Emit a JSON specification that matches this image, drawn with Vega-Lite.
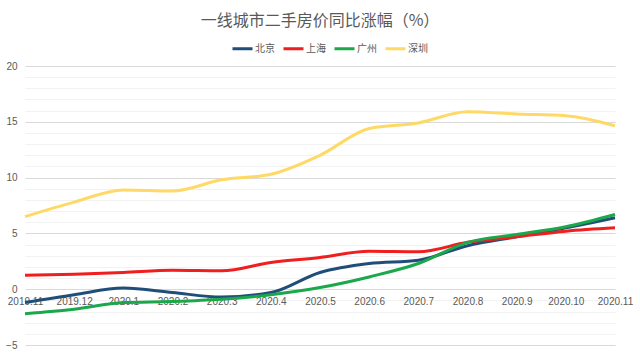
{
  "$schema": "https://vega.github.io/schema/vega-lite/v6.json",
  "autosize": {"type": "none"},
  "width": 590,
  "height": 279,
  "padding": {"left": 25, "top": 66, "right": 25, "bottom": 13},
  "background": "white",
  "title": {"text": "一线城市二手房价同比涨幅（%）", "fontSize": 16, "fontWeight": "normal", "color": "#595959", "font": "Noto Sans CJK SC", "anchor": "middle", "offset": 8},
  "config": {"view": {"stroke": null}, "font": "Noto Sans CJK SC"},
  "data": {"values": [
    {"month": "2019.11", "city": "北京", "v": -1.2}, {"month": "2019.12", "city": "北京", "v": -0.5}, {"month": "2020.1", "city": "北京", "v": 0.1}, {"month": "2020.2", "city": "北京", "v": -0.3}, {"month": "2020.3", "city": "北京", "v": -0.7}, {"month": "2020.4", "city": "北京", "v": -0.3}, {"month": "2020.5", "city": "北京", "v": 1.5}, {"month": "2020.6", "city": "北京", "v": 2.3}, {"month": "2020.7", "city": "北京", "v": 2.6}, {"month": "2020.8", "city": "北京", "v": 3.9}, {"month": "2020.9", "city": "北京", "v": 4.7}, {"month": "2020.10", "city": "北京", "v": 5.5}, {"month": "2020.11", "city": "北京", "v": 6.4},
    {"month": "2019.11", "city": "上海", "v": 1.25}, {"month": "2019.12", "city": "上海", "v": 1.35}, {"month": "2020.1", "city": "上海", "v": 1.5}, {"month": "2020.2", "city": "上海", "v": 1.7}, {"month": "2020.3", "city": "上海", "v": 1.65}, {"month": "2020.4", "city": "上海", "v": 2.4}, {"month": "2020.5", "city": "上海", "v": 2.85}, {"month": "2020.6", "city": "上海", "v": 3.4}, {"month": "2020.7", "city": "上海", "v": 3.35}, {"month": "2020.8", "city": "上海", "v": 4.2}, {"month": "2020.9", "city": "上海", "v": 4.7}, {"month": "2020.10", "city": "上海", "v": 5.2}, {"month": "2020.11", "city": "上海", "v": 5.5},
    {"month": "2019.11", "city": "广州", "v": -2.2}, {"month": "2019.12", "city": "广州", "v": -1.8}, {"month": "2020.1", "city": "广州", "v": -1.2}, {"month": "2020.2", "city": "广州", "v": -1.1}, {"month": "2020.3", "city": "广州", "v": -0.9}, {"month": "2020.4", "city": "广州", "v": -0.5}, {"month": "2020.5", "city": "广州", "v": 0.15}, {"month": "2020.6", "city": "广州", "v": 1.1}, {"month": "2020.7", "city": "广州", "v": 2.3}, {"month": "2020.8", "city": "广州", "v": 4.2}, {"month": "2020.9", "city": "广州", "v": 4.9}, {"month": "2020.10", "city": "广州", "v": 5.6}, {"month": "2020.11", "city": "广州", "v": 6.7},
    {"month": "2019.11", "city": "深圳", "v": 6.5}, {"month": "2019.12", "city": "深圳", "v": 7.8}, {"month": "2020.1", "city": "深圳", "v": 8.9}, {"month": "2020.2", "city": "深圳", "v": 8.8}, {"month": "2020.3", "city": "深圳", "v": 9.8}, {"month": "2020.4", "city": "深圳", "v": 10.3}, {"month": "2020.5", "city": "深圳", "v": 12.0}, {"month": "2020.6", "city": "深圳", "v": 14.4}, {"month": "2020.7", "city": "深圳", "v": 14.9}, {"month": "2020.8", "city": "深圳", "v": 15.9}, {"month": "2020.9", "city": "深圳", "v": 15.7}, {"month": "2020.10", "city": "深圳", "v": 15.55}, {"month": "2020.11", "city": "深圳", "v": 14.65}
  ]},
  "layer": [
    {
      "mark": {"type": "rule", "opacity": 0},
      "encoding": {
        "y": {"field": "v", "type": "quantitative", "scale": {"domain": [-5, 20], "nice": false, "zero": false},
          "axis": {"orient": "left", "values": [-5,-4,-3,-2,-1,0,1,2,3,4,5,6,7,8,9,10,11,12,13,14,15,16,17,18,19,20], "labels": false, "ticks": false, "domain": false, "grid": true, "gridColor": "#f2f2f2", "gridWidth": 1, "title": null}}
      }
    },
    {
      "mark": {"type": "line", "interpolate": "monotone", "strokeWidth": 3},
      "encoding": {
        "x": {"field": "month", "type": "ordinal", "sort": ["2019.11","2019.12","2020.1","2020.2","2020.3","2020.4","2020.5","2020.6","2020.7","2020.8","2020.9","2020.10","2020.11"],
          "scale": {"type": "point", "padding": 0},
          "axis": {"title": null, "labelAngle": 0, "domain": false, "ticks": false, "grid": false, "offset": -55.8, "labelPadding": 7, "labelFontSize": 10, "labelColor": "#595959", "labelFont": "Liberation Sans"}},
        "y": {"field": "v", "type": "quantitative", "scale": {"domain": [-5, 20], "nice": false, "zero": false},
          "axis": {"orient": "left", "values": [-5, 0, 5, 10, 15, 20], "title": null, "ticks": false, "domain": false, "grid": true, "gridColor": "#d9d9d9", "labelPadding": 8, "labelFontSize": 10, "labelColor": "#595959", "labelFont": "Liberation Sans"}},
        "color": {"field": "city", "type": "nominal", "sort": ["北京", "上海", "广州", "深圳"],
          "scale": {"domain": ["北京", "上海", "广州", "深圳"], "range": ["#1F4E79", "#F01E1E", "#1AA84A", "#FFD966"]},
          "legend": {"orient": "none", "legendX": 206, "legendY": -29, "direction": "horizontal", "title": null, "symbolType": "stroke", "symbolSize": 400, "symbolStrokeWidth": 3, "labelFontSize": 10, "labelColor": "#595959", "columnPadding": 2, "labelOffset": 1}}
      }
    }
  ],
  "resolve": {"axis": {"y": "independent"}}
}
